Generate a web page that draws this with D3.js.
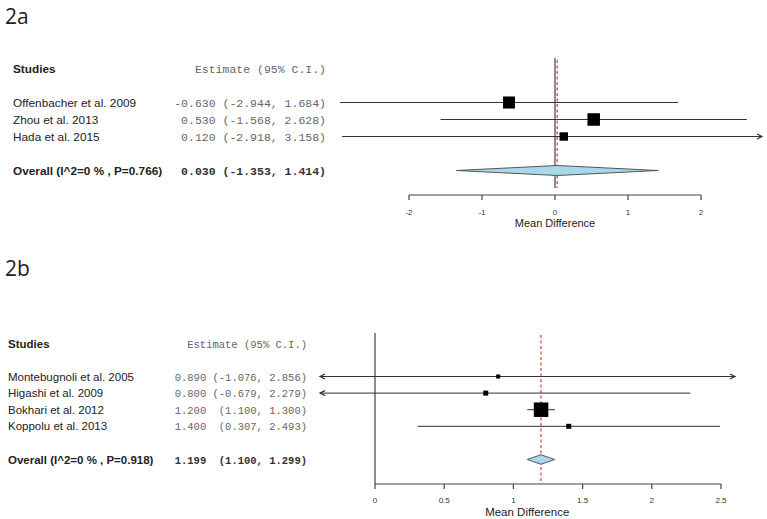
<!DOCTYPE html>
<html><head><meta charset="utf-8">
<script src="https://cdn.jsdelivr.net/npm/d3@7"></script>
<style>body{margin:0;background:#fff}svg{display:block}text{white-space:pre}</style>
</head><body>
<svg id="c" width="767" height="519"></svg>
<script>
// ---- Panel 2a data ----
const studiesA = ["Offenbacher et al. 2009", "Zhou et al. 2013", "Hada et al. 2015"];
const estA  = [-0.630, 0.530, 0.120];
const lowA  = [-2.944, -1.568, -2.918];
const highA = [1.684, 2.628, 3.158];
const weightA = [0.39, 0.42, 0.19];
const overallLabelA = "Overall (I^2=0 % , P=0.766)";
const overallA = [0.030, -1.353, 1.414];
const ticksA = [-2, -1, 0, 1, 2];

// ---- Panel 2b data ----
const studiesB = ["Montebugnoli et al. 2005", "Higashi et al. 2009", "Bokhari et al. 2012", "Koppolu et al. 2013"];
const estB  = [0.890, 0.800, 1.200, 1.400];
const lowB  = [-1.076, -0.679, 1.100, 0.307];
const highB = [2.856, 2.279, 1.300, 2.493];
const weightB = [0.06, 0.09, 0.76, 0.09];
const overallLabelB = "Overall (I^2=0 % , P=0.918)";
const overallB = [1.199, 1.100, 1.299];
const ticksB = [0, 0.5, 1, 1.5, 2, 2.5];

const svg = d3.select("#c");
svg.append("rect").attr("width",767).attr("height",519).attr("fill","#fff");

function fmt(v){ return v.toFixed(3); }

function panel(cfg){
  const g = svg.append("g");
  const x = d3.scaleLinear().domain(cfg.axisDomain).range(cfg.axisRange);
  const [clipL, clipR] = cfg.clip;
  const n = cfg.studies.length;
  const rowY = i => cfg.rowTop + i*cfg.rowGap;

  // title
  g.append("text").attr("x",cfg.titleX).attr("y",cfg.titleY).text(cfg.title)
    .attr("font-family","Open Sans, Liberation Sans, sans-serif").attr("font-size",21).attr("fill","#222");

  // headers
  g.append("text").attr("x",cfg.nameX).attr("y",cfg.headerY+4).text("Studies")
    .attr("font-family","Liberation Sans, Arial, sans-serif").attr("font-weight","bold")
    .attr("font-size",cfg.nameSize).attr("fill","#222");
  g.append("text").attr("x",cfg.estX).attr("y",cfg.headerY+4).attr("text-anchor","end")
    .text("Estimate (95% C.I.)")
    .attr("font-family","Liberation Mono, Courier New, monospace").attr("font-size",cfg.monoSize).attr("fill","#666");

  // formatted estimate strings
  const all = cfg.est.concat([cfg.overall[0]]);
  const allL = cfg.low.concat([cfg.overall[1]]);
  const allH = cfg.high.concat([cfg.overall[2]]);
  const wE = d3.max(all, v=>fmt(v).length), wL = d3.max(allL, v=>fmt(v).length), wH = d3.max(allH, v=>fmt(v).length);
  const estStr = i => fmt(all[i]).padStart(wE) + " " + ("(" + fmt(allL[i])).padStart(wL+1) + ", " + fmt(allH[i]).padStart(wH) + ")";

  cfg.studies.forEach((s,i)=>{
    g.append("text").attr("x",cfg.nameX).attr("y",rowY(i)+4).text(s)
      .attr("font-family","Liberation Sans, Arial, sans-serif").attr("font-size",cfg.nameSize).attr("fill","#222");
    g.append("text").attr("x",cfg.estX).attr("y",rowY(i)+4).attr("text-anchor","end").text(estStr(i))
      .attr("font-family","Liberation Mono, Courier New, monospace").attr("font-size",cfg.monoSize).attr("fill","#666");
  });
  g.append("text").attr("x",cfg.nameX).attr("y",cfg.overallY+4).text(cfg.overallLabel)
    .attr("font-family","Liberation Sans, Arial, sans-serif").attr("font-weight","bold")
    .attr("font-size",cfg.nameSize).attr("fill","#222");
  g.append("text").attr("x",cfg.estX).attr("y",cfg.overallY+4).attr("text-anchor","end").text(estStr(n))
    .attr("font-family","Liberation Mono, Courier New, monospace").attr("font-weight","bold")
    .attr("font-size",cfg.monoSize).attr("fill","#333");

  // vertical reference line at 0
  g.append("line").attr("x1",x(0)).attr("x2",x(0)).attr("y1",cfg.vTop).attr("y2",cfg.vBottom)
    .attr("stroke","#444").attr("stroke-width",1.2);
  // dashed overall line
  g.append("line").attr("x1",x(cfg.overall[0])).attr("x2",x(cfg.overall[0])).attr("y1",cfg.vTop+2).attr("y2",cfg.vBottom)
    .attr("stroke","#d83a3a").attr("stroke-width",1.2).attr("stroke-dasharray","3,2.5");

  // CI lines with arrows when clipped
  const vmin = x.invert(clipL), vmax = x.invert(clipR);
  cfg.studies.forEach((s,i)=>{
    const y = rowY(i);
    const lo = Math.max(cfg.low[i], vmin), hi = Math.min(cfg.high[i], vmax);
    g.append("line").attr("x1",x(lo)).attr("x2",x(hi)).attr("y1",y).attr("y2",y)
      .attr("stroke","#333").attr("stroke-width",1);
    if (cfg.low[i] < vmin){
      const ax = x(vmin);
      g.append("path").attr("d",`M${ax+5},${y-2.5}L${ax},${y}L${ax+5},${y+2.5}`)
        .attr("fill","none").attr("stroke","#333").attr("stroke-width",1.2);
    }
    if (cfg.high[i] > vmax){
      const ax = x(vmax);
      g.append("path").attr("d",`M${ax-5},${y-2.5}L${ax},${y}L${ax-5},${y+2.5}`)
        .attr("fill","none").attr("stroke","#333").attr("stroke-width",1.2);
    }
    const sz = cfg.maxBox * Math.sqrt(cfg.weight[i] / d3.max(cfg.weight));
    g.append("rect").attr("x",x(cfg.est[i])-sz/2).attr("y",y-sz/2).attr("width",sz).attr("height",sz)
      .attr("fill","#000");
  });

  // diamond
  const yd = cfg.overallY, h = cfg.diamondH/2;
  g.append("path")
    .attr("d",`M${x(cfg.overall[1])},${yd}L${x(cfg.overall[0])},${yd-h}L${x(cfg.overall[2])},${yd}L${x(cfg.overall[0])},${yd+h}Z`)
    .attr("fill","#a9d8e8").attr("stroke","#555").attr("stroke-width",1);

  // x axis
  const axG = g.append("g").attr("transform",`translate(0,${cfg.axisY})`);
  axG.append("line").attr("x1",x(cfg.ticks[0])).attr("x2",x(cfg.ticks[cfg.ticks.length-1]))
    .attr("stroke","#444").attr("stroke-width",1.2);
  cfg.ticks.forEach(t=>{
    axG.append("line").attr("x1",x(t)).attr("x2",x(t)).attr("y1",0).attr("y2",5).attr("stroke","#444").attr("stroke-width",1.2);
    axG.append("text").attr("x",x(t)).attr("y",cfg.tickLabelDy).attr("text-anchor","middle")
      .text(t).attr("font-family","Liberation Sans, Arial, sans-serif").attr("font-size",8).attr("fill","#333");
  });
  g.append("text").attr("x",x(cfg.centerVal)).attr("y",cfg.xlabY).attr("text-anchor","middle")
    .text("Mean Difference").attr("font-family","Liberation Sans, Arial, sans-serif")
    .attr("font-size",cfg.xlabSize).attr("fill","#222");
}

panel({
  title:"2a", titleX:5, titleY:24,
  studies:studiesA, est:estA, low:lowA, high:highA, weight:weightA,
  overall:overallA, overallLabel:overallLabelA, ticks:ticksA,
  axisDomain:[-2,2], axisRange:[409,701], clip:[330,762],
  nameX:13, estX:326, headerY:69, rowTop:102.5, rowGap:17, overallY:170.5,
  nameSize:11.8, monoSize:11.5, maxBox:12.5, diamondH:10,
  vTop:58, vBottom:188, axisY:195, tickLabelDy:20, xlabY:227, xlabSize:11, centerVal:0
});

panel({
  title:"2b", titleX:5, titleY:276,
  studies:studiesB, est:estB, low:lowB, high:highB, weight:weightB,
  overall:overallB, overallLabel:overallLabelB, ticks:ticksB,
  axisDomain:[0,2.5], axisRange:[375,721], clip:[320,735],
  nameX:8, estX:307, headerY:344, rowTop:376.5, rowGap:16.6, overallY:459.5,
  nameSize:11.5, monoSize:10.5, maxBox:14.5, diamondH:9.5,
  vTop:333, vBottom:484, axisY:484, tickLabelDy:19, xlabY:516, xlabSize:11.5, centerVal:1.1
});
</script>
</body></html>
